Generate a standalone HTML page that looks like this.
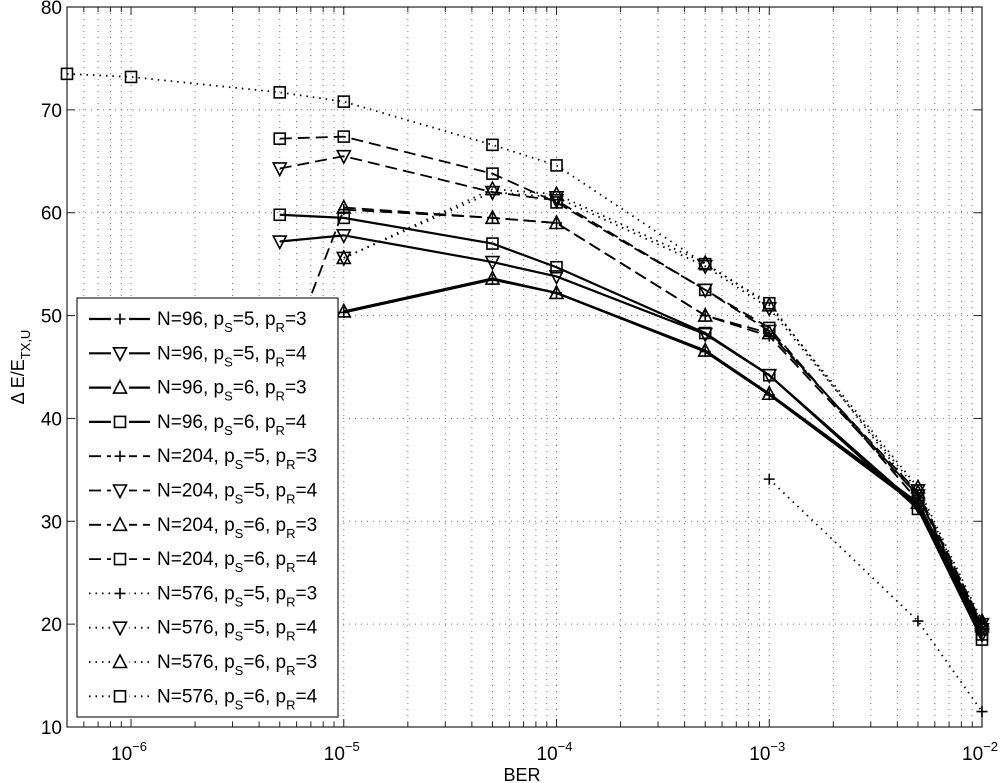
<!DOCTYPE html>
<html><head><meta charset="utf-8"><style>
body{margin:0;background:#fff}
svg{display:block;font-family:"Liberation Sans",sans-serif}
</style></head><body>
<svg id="c" width="1000" height="783"></svg>
<script>
const berValues=[5e-7,1e-6,5e-6,1e-5,5e-5,1e-4,5e-4,1e-3,5e-3,1e-2];
const seriesNames=["N=96, p_S=5, p_R=3","N=96, p_S=5, p_R=4","N=96, p_S=6, p_R=3","N=96, p_S=6, p_R=4","N=204, p_S=5, p_R=3","N=204, p_S=5, p_R=4","N=204, p_S=6, p_R=3","N=204, p_S=6, p_R=4","N=576, p_S=5, p_R=3","N=576, p_S=5, p_R=4","N=576, p_S=6, p_R=3","N=576, p_S=6, p_R=4"];
const seriesMarkers=["plus","down","up","square","plus","down","up","square","plus","down","up","square"];
const seriesStyles=["solid","solid","solid","solid","dashed","dashed","dashed","dashed","dotted","dotted","dotted","dotted"];
const s96a=[null,null,null,50.3,53.5,52.2,46.5,42.3,31.5,19.5];
const s96b=[null,null,57.2,57.8,55.2,53.8,48.2,44.2,31.5,19.0];
const s96c=[null,null,null,50.4,53.6,52.2,46.6,42.4,31.8,19.8];
const s96d=[null,null,59.8,59.5,57.0,54.7,48.3,44.2,31.2,18.5];
const s204a=[null,null,44.0,60.3,59.5,59.0,50.0,48.0,32.5,20.0];
const s204b=[null,null,64.3,65.5,62.0,61.2,52.5,48.5,32.5,19.5];
const s204c=[null,null,null,60.5,59.5,59.0,50.0,48.3,32.8,20.0];
const s204d=[null,null,67.2,67.4,63.8,61.0,52.5,48.8,32.0,19.0];
const s576a=[null,null,null,null,null,null,null,34.1,20.3,11.5];
const s576b=[null,null,null,55.6,62.0,61.5,54.8,50.7,33.0,20.0];
const s576c=[null,null,null,55.6,62.3,61.8,55.1,51.0,33.3,20.3];
const s576d=[73.5,73.2,71.7,70.8,66.6,64.6,55.0,51.2,32.5,19.5];
const allSeries=[s96a,s96b,s96c,s96d,s204a,s204b,s204c,s204d,s576a,s576b,s576c,s576d];
const yTicks=[10,20,30,40,50,60,70,80];
const xDecades=[-6,-5,-4,-3,-2];

const L=67,R=982,T=7,B=727;
const xMin=Math.log10(5e-7),xMax=-2;
const X=v=>L+(Math.log10(v)-xMin)/(xMax-xMin)*(R-L);
const Y=v=>B-(v-10)/70*(B-T);
const svg=document.getElementById('c');
const NS="http://www.w3.org/2000/svg";
function mk(tag,attrs,parent){const e=document.createElementNS(NS,tag);for(const k in attrs)e.setAttribute(k,attrs[k]);(parent||svg).appendChild(e);return e;}
const dash={solid:"",dashed:"12,6",dotted:"1.5,5"};

const grid=mk('g',{});


for(let d=-7;d<=-3;d++)for(let m=1;m<=9;m++){const v=m*Math.pow(10,d);if(v<5e-7||v>1e-2)continue;const x=X(v);
 mk('line',{x1:x,x2:x,y1:T,y2:B,stroke:'#777','stroke-width':1,'stroke-dasharray':'1,5'},grid);
 const tl=m==1?8:5;
 mk('line',{x1:x,x2:x,y1:B,y2:B-tl,stroke:'#222','stroke-width':1},grid);
 mk('line',{x1:x,x2:x,y1:T,y2:T+tl,stroke:'#222','stroke-width':1},grid);}
yTicks.forEach(v=>{const y=Y(v);
 mk('line',{x1:L,x2:R,y1:y,y2:y,stroke:'#777','stroke-width':1,'stroke-dasharray':'1,5'},grid);
 mk('line',{x1:L,x2:L+8,y1:y,y2:y,stroke:'#222'},grid);mk('line',{x1:R,x2:R-8,y1:y,y2:y,stroke:'#222'},grid);
 const t=mk('text',{x:L-5,y:y+7,'text-anchor':'end','font-size':19},grid);t.textContent=v;
 });
xDecades.forEach(d=>{const x=X(Math.pow(10,d));
 const t=mk('text',{x:x-2,y:760,'text-anchor':'middle','font-size':19});
 
 
 t.textContent='10';const s=mk('tspan',{dy:-9,'font-size':13},t);s.textContent='\u2212'+(-d);});
const ax=mk('rect',{x:L,y:T,width:R-L,height:B-T,fill:'none',stroke:'#222','stroke-width':1.2});



function marker(type,x,y,g){const s=5.5,a={fill:'none',stroke:'#000','stroke-width':1.6};
 if(type=='plus'){mk('path',Object.assign({d:`M${x-s} ${y}H${x+s}M${x} ${y-s}V${y+s}`},a),g);}
 else if(type=='square'){mk('rect',Object.assign({x:x-s,y:y-s,width:2*s,height:2*s},a),g);}
 else if(type=='down'){mk('path',Object.assign({d:`M${x-6.5} ${y-5.5}L${x+6.5} ${y-5.5}L${x} ${y+7}Z`},a),g);}
 else {mk('path',Object.assign({d:`M${x-6.5} ${y+5.5}L${x+6.5} ${y+5.5}L${x} ${y-7}Z`},a),g);}}

allSeries.forEach((vals,i)=>{const g=mk('g',{});
 
 
 const pts=[];vals.forEach((v,j)=>{if(v!=null)pts.push([X(berValues[j]),Y(v)]);});
 mk('polyline',{points:pts.map(p=>p.join(',')).join(' '),fill:'none',stroke:'#000','stroke-width':i<4?2.2:1.8,'stroke-dasharray':dash[seriesStyles[i]]},g);
 pts.forEach(p=>marker(seriesMarkers[i],p[0],p[1],g));});

const lg=mk('g',{});


mk('rect',{x:77,y:298,width:261,height:419,fill:'#fff',stroke:'#222','stroke-width':1.2},lg);
seriesNames.forEach((n,i)=>{const y=319+i*34.3;const e=mk('g',{},lg);
 
 
 mk('line',{x1:89,x2:150,y1:y,y2:y,stroke:'#000','stroke-width':i<4?2.2:1.8,'stroke-dasharray':dash[seriesStyles[i]]},e);
 mk('rect',{x:111,y:y-8,width:18,height:16,fill:'#fff'},e);
 marker(seriesMarkers[i],120,y,e);
 const p=n.split(', ');const t=mk('text',{x:157,y:y+6,'font-size':19},e);
 const a=mk('tspan',{},t);a.textContent=p[0]+', p';
 let s=mk('tspan',{dy:7,'font-size':13},t);s.textContent='S';
 s=mk('tspan',{dy:-7},t);s.textContent='='+p[1].split('=')[1]+', p';
 s=mk('tspan',{dy:7,'font-size':13},t);s.textContent='R';
 s=mk('tspan',{dy:-7},t);s.textContent='='+p[2].split('=')[1];});

const xl=mk('text',{x:522,y:781,'text-anchor':'middle','font-size':18});


xl.textContent='BER';
const yl=mk('text',{x:0,y:0,'text-anchor':'middle','font-size':18,transform:'translate(24,367) rotate(-90)'});


yl.textContent='\u0394 E/E';const sb=mk('tspan',{dy:6,'font-size':13},yl);sb.textContent='TX,U';
</script>
</body></html>
